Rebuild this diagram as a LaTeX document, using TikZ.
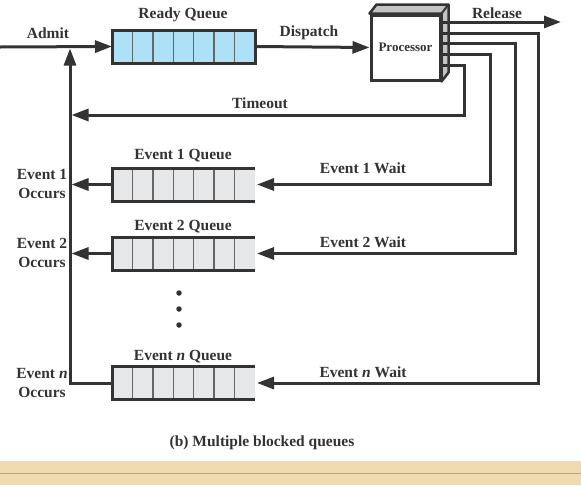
\documentclass[tikz,border=0pt]{standalone}
\usepackage{fontspec}
\setmainfont{Liberation Serif}
\usetikzlibrary{arrows.meta,calc}
\definecolor{ink}{HTML}{333333}
\definecolor{rqfill}{HTML}{AEE0F6}
\definecolor{evfill}{HTML}{E6E7E9}
\definecolor{side}{HTML}{C4C4C4}
\definecolor{band}{HTML}{F0DAB0}
\definecolor{bandline}{HTML}{9EA7AF}
\begin{document}
\begin{tikzpicture}[x=1pt,y=-1pt,
  lbl/.style={font=\bfseries\fontsize{15.5}{19.5}\selectfont, text=ink, inner sep=0pt, align=center},
  wire/.style={draw=ink, line width=3pt, line join=miter},
  arr/.style={wire, -{Triangle[length=17pt,width=12pt]}},
  qbox/.style={minimum width=143pt, minimum height=33pt, inner sep=0pt, outer sep=0pt},
  qborder/.style={draw=ink, line width=3pt, line join=miter},
  cell/.style={draw=ink!75, line width=1.3pt},
  dot/.style={circle, fill=ink, inner sep=0pt, minimum size=5.5pt}]

\useasboundingbox (0,0) rectangle (581,485);
\fill[white] (0,0) rectangle (581,485);
\fill[band] (0,461) rectangle (581,485);
\draw[bandline, line width=1pt] (0,473) -- (581,473);

% Ready queue
\node[qbox, fill=rqfill] (rq) at (183.5,46.5) {};
\foreach \i in {1,...,6}
  \draw[cell] ($(rq.north west)!\i/7!(rq.north east)$) -- ($(rq.south west)!\i/7!(rq.south east)$);
\draw[qborder] (rq.north west) rectangle (rq.south east);
\node[lbl] (rql) at (183,15) {Ready Queue};

% Event queues
\foreach \q/\y in {q1/184.5, q2/253.5, qn/383} {
  \node[qbox, fill=evfill] (\q) at (183.5,\y) {};
  \foreach \i in {1,...,6}
    \draw[cell] ($(\q.north west)!\i/7!(\q.north east)$) -- ($(\q.south west)!\i/7!(\q.south east)$);
  \draw[qborder] (\q.north east) -- (\q.north west) -- (\q.south west) -- (\q.south east);
}
\node[lbl] (q1l) at (183,156) {Event 1 Queue};
\node[lbl] (q2l) at (183,227) {Event 2 Queue};
\node[lbl] (qnl) at (183,357) {Event \textit{n} Queue};

% Processor
\node[draw=ink, line width=3pt, fill=white, minimum width=69pt, minimum height=65pt,
      inner sep=0pt, font=\bfseries\fontsize{13}{15}\selectfont, text=ink] (p) at (405.5,47.5) {Processor};
\draw[ink, line width=2.5pt, fill=side, line join=round]
  (p.north west) -- ($(p.north west)+(7,-9)$) -- ($(p.north east)+(7,-9)$)
  -- ($(p.south east)+(7,-9)$) -- (p.south east) -- (p.north east) -- cycle;
\draw[ink, line width=2pt] (p.north east) -- ($(p.north east)+(7,-9)$);

% ports
\coordinate (o1) at (440,22);
\coordinate (o2) at (440,33);
\coordinate (o3) at (440,43);
\coordinate (o4) at (440,54);
\coordinate (o5) at (440,65);
\coordinate (rel) at (561,22);
\coordinate (in) at (0,47);
\coordinate (j) at (70,47);
\coordinate (tj) at (70,115);

% connectors
\draw[arr] (in) -- (rq.west);
\draw[arr] (rq.east) -- (p.west);
\draw[arr] (o1) -- (rel);
\draw[arr, shorten >=2pt] (o2) -- (538,33) |- (qn.east);
\draw[arr, shorten >=2pt] (o3) -- (515,43) |- (q2.east);
\draw[arr, shorten >=2pt] (o4) -- (490,54) |- (q1.east);
\draw[arr, shorten >=1.5pt] (o5) -- (464,65) |- (tj);
\draw[arr, shorten >=1.5pt] (qn.west) -| (j);
\draw[arr, shorten >=1.5pt] (q1.west) -- (q1.west -| j);
\draw[arr, shorten >=1.5pt] (q2.west) -- (q2.west -| j);

% labels
\node[lbl] (la) at (48,33) {Admit};
\node[lbl] (ld) at (309,33) {Dispatch};
\node[lbl] (lr) at (497,13) {Release};
\node[lbl] (lt) at (260,103) {Timeout};
\node[lbl] (lw1) at (363,168) {Event 1 Wait};
\node[lbl] (lw2) at (363,242) {Event 2 Wait};
\node[lbl] (lwn) at (363,372) {Event \textit{n} Wait};
\node[lbl] (le1) at (42,184) {Event 1\\Occurs};
\node[lbl] (le2) at (42,253) {Event 2\\Occurs};
\node[lbl] (len) at (42,383) {Event \textit{n}\\Occurs};

% dots
\node[dot] (d1) at (179,293) {};
\node[dot] (d2) at (179,309) {};
\node[dot] (d3) at (179,325) {};

\node[lbl] (cap) at (262,443) {(b) Multiple blocked queues};
\end{tikzpicture}
\end{document}
